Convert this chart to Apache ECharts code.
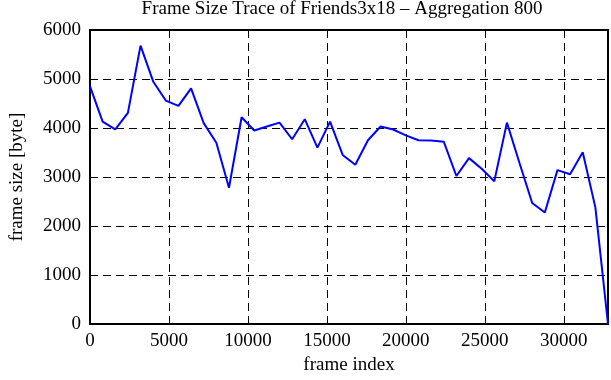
<!DOCTYPE html>
<html>
<head>
<meta charset="utf-8">
<script src="https://cdn.jsdelivr.net/npm/echarts@6/dist/echarts.min.js"></script>
<style>html,body{margin:0;padding:0;background:#fff;}#c{width:611px;height:380px;}</style>
</head>
<body>
<div id="c"></div>
<script>
const frameIndex = [0, 800, 1600, 2400, 3200, 4000, 4800, 5600, 6400, 7200, 8000, 8800, 9600, 10400, 11200, 12000, 12800, 13600, 14400, 15200, 16000, 16800, 17600, 18400, 19200, 20000, 20800, 21600, 22400, 23200, 24000, 24800, 25600, 26400, 27200, 28000, 28800, 29600, 30400, 31200, 32000, 32800];
const frameSize = [4850, 4130, 3970, 4310, 5680, 4950, 4560, 4450, 4810, 4100, 3700, 2780, 4220, 3950, 4030, 4110, 3770, 4180, 3600, 4130, 3450, 3250, 3750, 4030, 3970, 3850, 3750, 3747, 3720, 3020, 3385, 3167, 2913, 4110, 3280, 2470, 2275, 3140, 3055, 3505, 2380, 0];
const xTicks = [0, 5000, 10000, 15000, 20000, 25000, 30000];
const yTicks = [0, 1000, 2000, 3000, 4000, 5000, 6000];

const serif = '"Liberation Serif", "DejaVu Serif", serif';
const chart = echarts.init(document.getElementById('c'), null, {renderer: 'canvas'});
chart.setOption({
  animation: false,
  backgroundColor: '#fff',
  title: {
    text: 'Frame Size Trace of Friends3x18 \u2013 Aggregation 800',
    left: 342, top: 0, padding: 0, textAlign: 'center',
    textStyle: {fontFamily: serif, fontSize: 19, fontWeight: 'normal', color: '#000'}
  },
  grid: {left: 81, right: 3, top: 30, bottom: 51, show: true, borderColor: '#000', borderWidth: 2, backgroundColor: 'transparent', containLabel: false},
  xAxis: {
    type: 'value', min: 0, max: 32800, interval: 5000,
    name: 'frame index', nameLocation: 'middle', nameGap: 32,
    nameTextStyle: {fontFamily: serif, fontSize: 19, color: '#000'},
    axisLine: {show: false}, axisTick: {show: false},
    axisLabel: {fontFamily: serif, fontSize: 19, color: '#000', margin: 8, showMaxLabel: false,
      formatter: v => xTicks.includes(v) ? String(v) : ''},
    splitLine: {show: true, lineStyle: {color: '#000', type: [8, 5], width: 1}}
  },
  yAxis: {
    type: 'value', min: 0, max: 6000, interval: 1000,
    name: 'frame size [byte]', nameLocation: 'middle', nameGap: 63, nameRotate: 90,
    nameTextStyle: {fontFamily: serif, fontSize: 19, color: '#000'},
    axisLine: {show: false}, axisTick: {show: false},
    axisLabel: {fontFamily: serif, fontSize: 19, color: '#000', margin: 9,
      formatter: v => yTicks.includes(v) ? String(v) : ''},
    splitLine: {show: true, lineStyle: {color: '#000', type: [8, 5], width: 1}}
  },
  series: [{
    type: 'line', data: frameIndex.map((x, i) => [x, frameSize[i]]),
    symbol: 'none', lineStyle: {color: '#0000ff', width: 2}, z: 3
  }]
});
</script>
</body>
</html>
